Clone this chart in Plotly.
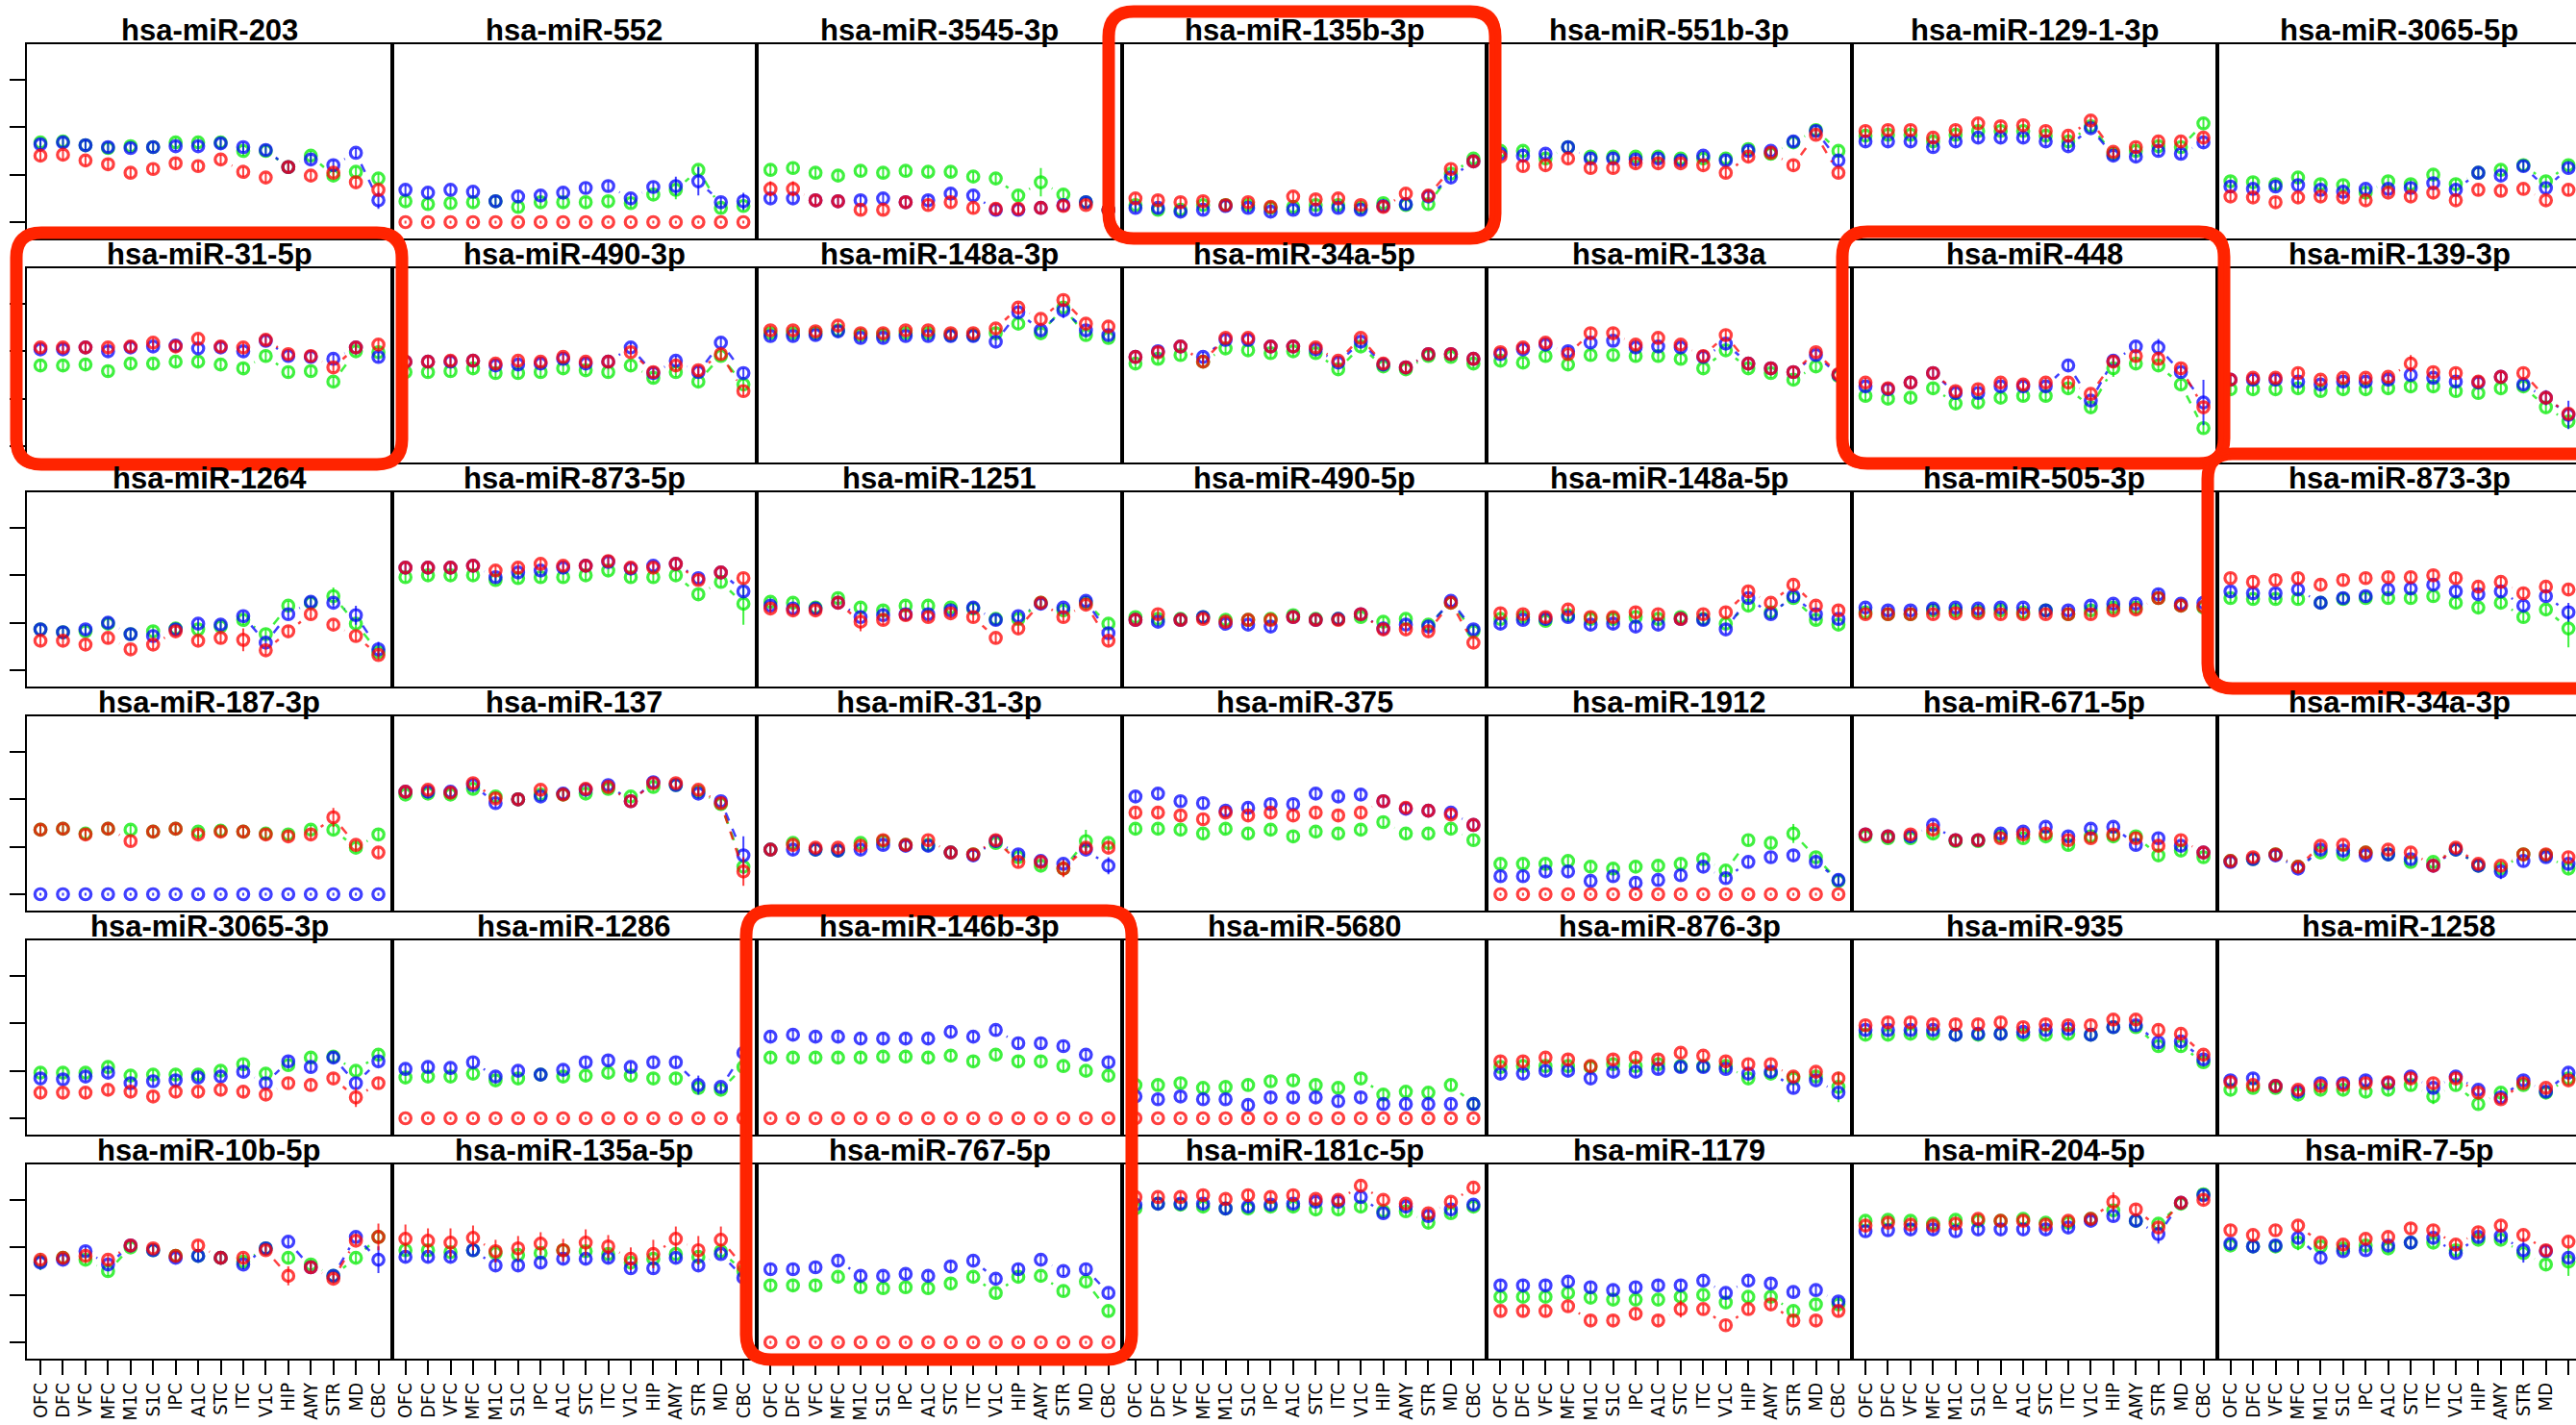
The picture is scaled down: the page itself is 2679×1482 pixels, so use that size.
import math
import plotly.graph_objects as go

# ---------------------------------------------------------------- data
regions = ["OFC", "DFC", "VFC", "MFC", "M1C", "S1C", "IPC", "A1C",
           "STC", "ITC", "V1C", "HIP", "AMY", "STR", "MD", "CBC"]

mirnas = [
    "hsa-miR-203", "hsa-miR-552", "hsa-miR-3545-3p", "hsa-miR-135b-3p", "hsa-miR-551b-3p", "hsa-miR-129-1-3p", "hsa-miR-3065-5p",
    "hsa-miR-31-5p", "hsa-miR-490-3p", "hsa-miR-148a-3p", "hsa-miR-34a-5p", "hsa-miR-133a", "hsa-miR-448", "hsa-miR-139-3p",
    "hsa-miR-1264", "hsa-miR-873-5p", "hsa-miR-1251", "hsa-miR-490-5p", "hsa-miR-148a-5p", "hsa-miR-505-3p", "hsa-miR-873-3p",
    "hsa-miR-187-3p", "hsa-miR-137", "hsa-miR-31-3p", "hsa-miR-375", "hsa-miR-1912", "hsa-miR-671-5p", "hsa-miR-34a-3p",
    "hsa-miR-3065-3p", "hsa-miR-1286", "hsa-miR-146b-3p", "hsa-miR-5680", "hsa-miR-876-3p", "hsa-miR-935", "hsa-miR-1258",
    "hsa-miR-10b-5p", "hsa-miR-135a-5p", "hsa-miR-767-5p", "hsa-miR-181c-5p", "hsa-miR-1179", "hsa-miR-204-5p", "hsa-miR-7-5p",
]

Z = [0.0] * 16

expr_red = {
    "hsa-miR-203": [7.0, 7.1, 6.5, 6.1, 5.2, 5.6, 6.2, 5.9, 6.6, 5.3, 4.7, 5.8, 4.9, 5.2, 4.2, 3.4],
    "hsa-miR-552": Z,
    "hsa-miR-3545-3p": [3.5, 3.5, 2.3, 2.2, 1.3, 1.3, 2.1, 1.8, 2.1, 1.5, 1.4, 1.4, 1.5, 1.7, 1.8, 1.3],
    "hsa-miR-135b-3p": [2.5, 2.3, 2.1, 2.2, 1.8, 2.1, 1.6, 2.7, 2.4, 2.5, 1.8, 1.6, 3.0, 2.8, 5.6, 6.4],
    "hsa-miR-551b-3p": [6.9, 5.9, 6.0, 6.7, 5.7, 5.7, 6.2, 6.2, 6.2, 6.0, 5.2, 6.9, 7.3, 6.0, 9.2, 5.2],
    "hsa-miR-129-1-3p": [9.6, 9.7, 9.7, 8.9, 9.7, 10.4, 10.1, 10.2, 9.6, 9.1, 10.7, 7.4, 7.9, 8.5, 8.5, 8.9],
    "hsa-miR-3065-5p": [2.7, 2.6, 2.1, 2.6, 2.7, 2.6, 2.3, 3.1, 2.7, 3.1, 2.3, 3.4, 3.3, 3.5, 2.3, 3.4],
    "hsa-miR-31-5p": [10.4, 10.4, 10.4, 10.4, 10.5, 10.9, 10.5, 11.3, 10.5, 10.4, 11.2, 9.7, 9.5, 8.3, 10.4, 10.7],
    "hsa-miR-490-3p": [8.9, 8.9, 9.0, 9.0, 8.7, 9.0, 8.9, 9.4, 8.9, 8.9, 9.9, 7.8, 8.5, 8.0, 9.7, 5.8],
    "hsa-miR-148a-3p": [12.2, 12.2, 12.1, 12.7, 11.9, 11.9, 12.2, 12.2, 11.9, 11.9, 12.4, 14.6, 13.4, 15.4, 12.9, 12.6],
    "hsa-miR-34a-5p": [9.4, 9.9, 10.5, 8.9, 11.4, 11.4, 10.5, 10.5, 10.4, 9.0, 11.4, 8.7, 8.3, 9.7, 9.7, 9.2],
    "hsa-miR-133a": [9.9, 10.4, 10.9, 9.7, 11.9, 11.9, 10.7, 11.4, 10.7, 9.5, 11.7, 8.7, 8.2, 7.8, 9.9, 7.6],
    "hsa-miR-448": [6.7, 6.1, 6.7, 7.7, 5.8, 6.0, 6.7, 6.5, 6.7, 6.7, 5.5, 8.9, 9.5, 9.2, 8.2, 4.1],
    "hsa-miR-139-3p": [7.0, 7.2, 7.2, 7.7, 7.0, 7.2, 7.2, 7.3, 8.7, 7.8, 7.7, 6.8, 7.3, 7.7, 5.1, 3.4],
    "hsa-miR-1264": [3.1, 3.1, 2.7, 3.4, 2.2, 2.7, 4.1, 3.1, 3.4, 3.2, 2.1, 4.1, 5.9, 4.8, 3.6, 1.6],
    "hsa-miR-873-5p": [10.8, 10.8, 10.8, 11.0, 10.5, 10.8, 11.2, 11.0, 11.0, 11.5, 10.8, 10.8, 11.2, 9.5, 10.3, 9.7],
    "hsa-miR-1251": [6.5, 6.3, 6.3, 7.1, 5.1, 5.3, 5.8, 5.6, 6.0, 5.6, 3.4, 4.4, 7.1, 5.6, 6.9, 3.1],
    "hsa-miR-490-5p": [5.3, 5.9, 5.3, 5.4, 5.1, 5.3, 5.3, 5.6, 5.3, 5.3, 5.9, 4.3, 4.3, 4.1, 7.1, 2.9],
    "hsa-miR-148a-5p": [6.0, 5.9, 5.6, 6.4, 5.6, 5.6, 6.1, 5.9, 5.4, 5.9, 6.1, 8.3, 7.1, 9.0, 6.8, 6.3],
    "hsa-miR-505-3p": [5.9, 5.9, 5.9, 5.9, 6.0, 6.0, 5.9, 5.9, 5.9, 5.9, 5.9, 6.3, 6.4, 7.6, 6.8, 6.7],
    "hsa-miR-873-3p": [9.7, 9.3, 9.5, 9.7, 9.0, 9.5, 9.7, 9.8, 9.8, 10.0, 9.7, 8.8, 9.3, 8.1, 8.8, 8.5],
    "hsa-miR-187-3p": [6.8, 6.9, 6.3, 6.9, 5.6, 6.6, 6.9, 6.3, 6.6, 6.6, 6.3, 6.1, 6.3, 8.1, 5.2, 4.4],
    "hsa-miR-137": [10.8, 11.0, 10.7, 11.7, 10.1, 10.0, 11.0, 10.5, 11.1, 11.3, 9.8, 11.7, 11.7, 11.0, 9.6, 2.4],
    "hsa-miR-31-3p": [4.7, 5.2, 4.9, 4.9, 5.1, 5.7, 5.2, 5.7, 4.4, 4.2, 5.7, 3.4, 3.4, 2.7, 4.9, 4.9],
    "hsa-miR-375": [8.6, 8.6, 8.3, 7.9, 8.6, 8.3, 8.6, 8.3, 8.6, 8.3, 8.6, 9.8, 9.1, 8.8, 8.4, 7.3],
    "hsa-miR-1912": Z,
    "hsa-miR-671-5p": [6.3, 6.1, 6.3, 6.8, 5.7, 5.7, 5.9, 6.3, 6.4, 5.7, 5.9, 6.3, 5.9, 5.1, 5.7, 4.4],
    "hsa-miR-34a-3p": [3.5, 3.9, 4.2, 2.9, 5.1, 5.2, 4.4, 4.7, 4.4, 3.0, 4.9, 3.2, 3.0, 4.2, 4.2, 3.9],
    "hsa-miR-3065-3p": [2.7, 2.7, 2.7, 3.0, 2.8, 2.3, 2.8, 2.8, 3.0, 2.8, 2.5, 3.7, 3.5, 4.2, 2.2, 3.7],
    "hsa-miR-1286": Z,
    "hsa-miR-146b-3p": Z,
    "hsa-miR-5680": Z,
    "hsa-miR-876-3p": [6.0, 6.0, 6.4, 6.2, 5.5, 6.2, 6.4, 6.2, 6.9, 6.6, 6.0, 5.7, 5.7, 4.4, 4.9, 4.2],
    "hsa-miR-935": [9.8, 10.1, 10.1, 9.9, 9.9, 9.9, 10.1, 9.6, 9.9, 9.8, 9.8, 10.4, 10.4, 9.3, 8.9, 6.7],
    "hsa-miR-1258": [3.8, 3.5, 3.4, 3.0, 3.4, 3.5, 3.7, 3.8, 4.2, 3.7, 4.2, 2.7, 2.0, 3.7, 3.2, 4.0],
    "hsa-miR-10b-5p": [8.7, 8.9, 9.1, 8.7, 10.2, 9.9, 9.1, 10.2, 8.9, 8.9, 9.7, 7.0, 7.9, 6.7, 10.7, 11.1],
    "hsa-miR-135a-5p": [10.9, 10.7, 10.5, 11.0, 9.6, 9.9, 10.4, 9.7, 10.5, 10.1, 8.8, 9.3, 10.9, 9.7, 10.8, 8.0],
    "hsa-miR-767-5p": Z,
    "hsa-miR-181c-5p": [15.3, 15.3, 15.3, 15.5, 15.1, 15.5, 15.3, 15.5, 15.1, 15.0, 16.5, 15.0, 14.6, 13.6, 14.8, 16.3],
    "hsa-miR-1179": [3.3, 3.3, 3.3, 3.8, 2.3, 2.3, 3.0, 2.3, 3.5, 3.5, 1.8, 3.5, 4.0, 2.3, 2.3, 3.3],
    "hsa-miR-204-5p": [12.3, 12.6, 12.4, 12.3, 12.5, 13.0, 12.8, 12.8, 12.4, 12.8, 13.0, 14.8, 14.0, 12.1, 14.7, 15.0],
    "hsa-miR-7-5p": [11.8, 11.3, 11.8, 12.3, 10.5, 10.3, 10.9, 11.1, 12.0, 11.8, 10.3, 11.6, 12.3, 11.3, 9.7, 10.6],
}

expr_green = {
    "hsa-miR-203": [8.4, 8.5, 8.1, 7.8, 8.0, 7.9, 8.4, 8.4, 8.4, 7.5, 7.5, 5.8, 7.0, 4.9, 5.3, 4.6],
    "hsa-miR-552": [2.2, 1.9, 2.0, 2.1, 2.2, 1.6, 2.1, 2.1, 2.1, 2.2, 2.0, 2.9, 3.4, 5.5, 1.5, 1.7],
    "hsa-miR-3545-3p": [5.5, 5.7, 5.2, 4.9, 5.4, 5.2, 5.4, 5.3, 5.3, 4.8, 4.6, 2.8, 4.2, 2.9, 2.1, 1.3],
    "hsa-miR-135b-3p": [1.8, 1.3, 1.3, 1.8, 1.8, 1.8, 1.5, 1.6, 1.8, 1.8, 1.5, 2.0, 1.8, 1.9, 5.1, 6.7],
    "hsa-miR-551b-3p": [7.5, 7.5, 6.7, 7.9, 6.9, 6.9, 6.9, 6.9, 6.7, 6.7, 6.7, 7.7, 7.2, 8.4, 9.7, 7.5],
    "hsa-miR-129-1-3p": [9.1, 9.2, 9.2, 8.5, 9.2, 9.6, 9.6, 9.6, 9.1, 8.5, 10.1, 7.2, 7.5, 8.0, 7.9, 10.4],
    "hsa-miR-3065-5p": [4.3, 4.2, 4.0, 4.7, 4.0, 3.9, 3.1, 4.3, 4.0, 5.0, 4.0, 5.2, 5.5, 6.0, 4.3, 6.0],
    "hsa-miR-31-5p": [8.5, 8.5, 8.6, 7.9, 8.7, 8.7, 8.9, 8.9, 8.6, 8.2, 9.5, 7.8, 7.9, 6.8, 10.0, 9.9],
    "hsa-miR-490-3p": [7.8, 7.8, 7.9, 8.2, 7.7, 7.7, 7.8, 8.2, 8.0, 7.8, 8.5, 7.2, 7.8, 6.8, 9.5, 6.5],
    "hsa-miR-148a-3p": [11.9, 11.9, 11.9, 12.2, 11.7, 11.7, 11.9, 11.9, 11.7, 11.7, 11.9, 12.9, 11.9, 14.6, 11.7, 11.4],
    "hsa-miR-34a-5p": [8.7, 9.2, 9.6, 8.9, 10.3, 10.1, 9.8, 10.0, 9.8, 8.1, 10.5, 8.4, 8.1, 9.5, 9.4, 8.7],
    "hsa-miR-133a": [9.0, 8.8, 9.5, 8.6, 9.6, 9.6, 9.5, 9.5, 9.2, 8.2, 10.1, 8.2, 7.7, 7.0, 8.4, 7.4],
    "hsa-miR-448": [5.3, 5.0, 5.1, 6.1, 4.5, 4.6, 5.1, 5.3, 5.3, 6.1, 4.1, 8.2, 8.7, 8.5, 6.5, 1.9],
    "hsa-miR-139-3p": [6.0, 6.0, 6.0, 6.1, 5.8, 6.0, 6.0, 6.1, 6.3, 6.3, 5.8, 5.6, 6.1, 6.3, 4.1, 2.6],
    "hsa-miR-1264": [4.3, 4.0, 4.1, 4.9, 3.8, 4.1, 4.4, 4.3, 4.6, 5.3, 3.8, 6.8, 7.1, 7.8, 4.9, 1.9],
    "hsa-miR-873-5p": [9.8, 10.0, 10.0, 10.0, 9.5, 9.7, 9.8, 9.8, 10.0, 10.5, 9.8, 9.8, 10.0, 8.0, 9.3, 7.0],
    "hsa-miR-1251": [7.2, 7.1, 6.6, 7.6, 6.6, 6.3, 6.8, 6.8, 6.6, 6.5, 5.4, 5.4, 7.1, 6.3, 7.1, 4.9],
    "hsa-miR-490-5p": [5.6, 5.4, 5.4, 5.6, 5.3, 5.3, 5.4, 5.8, 5.4, 5.4, 5.6, 5.1, 5.4, 4.8, 7.1, 4.1],
    "hsa-miR-148a-5p": [5.4, 5.6, 5.2, 5.8, 5.4, 5.4, 5.6, 5.4, 5.6, 5.4, 4.9, 6.8, 6.1, 7.6, 5.3, 4.8],
    "hsa-miR-505-3p": [6.1, 5.9, 5.9, 6.3, 6.3, 6.2, 6.3, 6.1, 6.3, 5.9, 6.3, 6.6, 6.6, 7.6, 6.8, 6.6],
    "hsa-miR-873-3p": [7.6, 7.5, 7.5, 7.5, 7.1, 7.5, 7.6, 7.6, 7.6, 7.8, 7.1, 6.6, 7.1, 5.6, 6.4, 4.4],
    "hsa-miR-187-3p": [6.8, 6.9, 6.4, 6.9, 6.8, 6.6, 6.9, 6.6, 6.7, 6.6, 6.4, 6.3, 6.8, 6.8, 4.9, 6.3],
    "hsa-miR-137": [10.5, 10.6, 10.5, 11.1, 10.3, 10.0, 10.5, 10.5, 10.6, 11.1, 10.3, 11.3, 11.5, 10.8, 9.5, 2.9],
    "hsa-miR-31-3p": [4.7, 5.4, 4.7, 4.6, 5.4, 5.6, 5.2, 5.2, 4.4, 4.2, 5.4, 3.9, 3.0, 2.7, 5.6, 5.4],
    "hsa-miR-375": [6.9, 6.9, 6.8, 6.4, 6.9, 6.4, 6.8, 6.1, 6.6, 6.4, 6.8, 7.6, 6.4, 6.4, 6.9, 5.7],
    "hsa-miR-1912": [3.2, 3.2, 3.2, 3.5, 2.9, 2.7, 2.9, 3.0, 3.2, 3.7, 2.5, 5.7, 5.4, 6.4, 3.9, 1.4],
    "hsa-miR-671-5p": [6.1, 5.9, 5.9, 6.4, 5.6, 5.6, 6.1, 5.9, 6.1, 5.2, 6.1, 6.1, 6.1, 4.1, 4.6, 3.9],
    "hsa-miR-34a-3p": [3.5, 3.7, 4.2, 2.9, 4.4, 4.2, 4.4, 4.2, 3.4, 3.4, 4.7, 3.0, 2.7, 4.2, 4.1, 2.7],
    "hsa-miR-3065-3p": [4.8, 4.8, 4.8, 5.4, 4.5, 4.6, 4.6, 4.6, 5.0, 5.7, 4.7, 5.6, 6.4, 6.5, 5.0, 6.7],
    "hsa-miR-1286": [4.3, 4.4, 4.4, 4.7, 4.0, 4.2, 4.6, 4.4, 4.5, 4.8, 4.5, 4.2, 4.2, 3.2, 3.0, 5.4],
    "hsa-miR-146b-3p": [6.4, 6.4, 6.4, 6.4, 6.4, 6.5, 6.5, 6.4, 6.6, 6.0, 6.7, 6.0, 6.0, 5.5, 5.0, 4.5],
    "hsa-miR-5680": [3.5, 3.5, 3.7, 3.2, 3.3, 3.5, 3.9, 4.0, 3.5, 3.2, 4.2, 2.5, 2.8, 2.7, 3.5, 1.5],
    "hsa-miR-876-3p": [5.4, 5.5, 5.5, 5.5, 5.4, 5.7, 5.5, 5.7, 5.5, 5.5, 5.5, 4.2, 4.7, 4.2, 4.4, 3.3],
    "hsa-miR-935": [8.8, 8.8, 8.9, 8.9, 8.8, 8.8, 8.9, 8.8, 8.8, 8.9, 8.8, 9.6, 9.6, 7.6, 7.6, 5.9],
    "hsa-miR-1258": [3.0, 3.2, 3.2, 2.5, 3.0, 3.0, 2.8, 3.0, 3.5, 2.3, 3.5, 1.5, 2.7, 3.5, 2.7, 4.2],
    "hsa-miR-10b-5p": [8.5, 8.9, 8.7, 7.5, 10.0, 9.7, 9.1, 9.1, 8.9, 8.5, 9.9, 8.9, 8.2, 7.0, 8.9, 11.1],
    "hsa-miR-135a-5p": [9.7, 9.7, 9.5, 9.7, 9.4, 9.2, 9.4, 9.7, 9.6, 9.3, 8.4, 8.8, 9.3, 9.0, 9.6, 7.5],
    "hsa-miR-767-5p": [6.0, 6.0, 6.0, 6.9, 5.8, 5.7, 5.8, 5.7, 6.2, 6.9, 5.2, 6.9, 7.0, 5.4, 6.4, 3.3],
    "hsa-miR-181c-5p": [14.1, 14.6, 14.5, 14.3, 14.1, 14.1, 14.3, 14.3, 14.0, 14.0, 14.3, 13.8, 13.8, 12.6, 13.6, 14.3],
    "hsa-miR-1179": [4.8, 4.8, 4.8, 5.2, 4.7, 4.5, 4.5, 4.5, 4.8, 5.0, 4.2, 4.8, 4.8, 3.3, 4.0, 4.0],
    "hsa-miR-204-5p": [12.8, 12.9, 12.8, 12.5, 12.9, 12.8, 12.8, 13.0, 12.6, 12.6, 13.0, 13.9, 12.8, 12.5, 14.6, 15.6],
    "hsa-miR-7-5p": [10.2, 10.1, 10.1, 10.5, 10.1, 9.9, 10.2, 9.9, 10.5, 10.5, 9.7, 10.8, 10.8, 9.4, 8.2, 8.5],
}

expr_blue = {
    "hsa-miR-203": [8.2, 8.4, 8.1, 7.9, 7.8, 7.9, 8.0, 8.0, 8.3, 7.9, 7.6, 5.8, 6.6, 6.0, 7.3, 2.3],
    "hsa-miR-552": [3.4, 3.1, 3.4, 3.2, 2.2, 2.7, 2.8, 3.1, 3.6, 3.8, 2.5, 3.7, 3.8, 4.3, 2.1, 2.2],
    "hsa-miR-3545-3p": [2.5, 2.5, 2.3, 2.2, 2.3, 2.5, 2.1, 2.3, 3.0, 2.8, 1.3, 1.3, 1.5, 1.8, 2.1, 1.3],
    "hsa-miR-135b-3p": [1.5, 1.5, 1.1, 1.3, 1.7, 1.5, 1.1, 1.3, 1.3, 1.5, 1.3, 1.7, 1.9, 2.7, 4.7, 6.4],
    "hsa-miR-551b-3p": [7.2, 7.0, 7.2, 7.9, 6.7, 6.7, 6.6, 6.7, 6.5, 7.0, 6.5, 7.5, 7.5, 8.5, 9.6, 6.5],
    "hsa-miR-129-1-3p": [8.5, 8.5, 8.5, 7.9, 8.5, 8.9, 8.9, 8.9, 8.5, 8.0, 9.9, 7.0, 6.9, 7.5, 7.2, 8.4],
    "hsa-miR-3065-5p": [3.75, 3.5, 3.75, 3.9, 3.4, 3.2, 3.5, 3.5, 3.6, 4.1, 3.4, 5.2, 4.9, 5.9, 3.6, 5.7],
    "hsa-miR-31-5p": [10.2, 10.2, 10.4, 10.0, 10.4, 10.5, 10.6, 10.3, 10.4, 10.0, 11.1, 9.5, 9.4, 9.2, 10.4, 9.4],
    "hsa-miR-490-3p": [8.9, 8.9, 8.9, 9.0, 8.5, 8.6, 8.7, 9.2, 8.7, 8.9, 10.4, 7.7, 9.0, 7.8, 10.9, 7.7],
    "hsa-miR-148a-3p": [11.6, 11.6, 11.7, 12.1, 11.4, 11.4, 11.6, 11.6, 11.6, 11.6, 11.0, 14.1, 12.2, 14.3, 12.2, 11.7],
    "hsa-miR-34a-5p": [9.4, 10.0, 10.5, 9.4, 11.2, 11.2, 10.5, 10.5, 10.2, 8.8, 11.0, 8.6, 8.3, 9.7, 9.7, 9.2],
    "hsa-miR-133a": [9.7, 10.2, 10.7, 10.0, 10.9, 11.1, 10.4, 10.5, 10.4, 9.4, 10.8, 8.7, 8.2, 7.8, 9.6, 7.5],
    "hsa-miR-448": [6.3, 6.0, 6.7, 7.7, 5.6, 5.6, 6.3, 6.3, 6.3, 8.5, 4.8, 9.0, 10.5, 10.4, 7.8, 4.6],
    "hsa-miR-139-3p": [7.0, 7.0, 7.0, 6.8, 6.5, 6.8, 6.8, 7.0, 7.5, 7.2, 6.8, 6.7, 7.3, 6.5, 5.1, 3.3],
    "hsa-miR-1264": [4.3, 4.0, 4.3, 5.0, 3.8, 3.6, 4.3, 4.9, 4.8, 5.7, 2.9, 5.9, 7.2, 7.1, 5.8, 2.2],
    "hsa-miR-873-5p": [10.8, 10.8, 10.8, 11.0, 9.8, 10.3, 10.5, 10.8, 11.0, 11.4, 10.7, 11.0, 11.2, 9.7, 10.3, 8.3],
    "hsa-miR-1251": [6.8, 6.5, 6.5, 7.1, 5.6, 5.8, 5.9, 5.9, 6.3, 6.6, 5.3, 5.7, 7.0, 6.6, 7.3, 3.9],
    "hsa-miR-490-5p": [5.3, 5.1, 5.3, 5.6, 4.9, 4.8, 4.6, 5.6, 5.3, 5.4, 5.9, 4.4, 4.8, 4.6, 7.3, 4.3],
    "hsa-miR-148a-5p": [4.9, 5.3, 5.4, 5.6, 4.8, 4.9, 4.6, 4.8, 5.4, 5.3, 4.3, 7.6, 5.9, 7.8, 5.9, 5.4],
    "hsa-miR-505-3p": [6.6, 6.3, 6.3, 6.5, 6.6, 6.5, 6.6, 6.6, 6.3, 6.3, 6.8, 7.0, 7.0, 8.0, 7.0, 7.1],
    "hsa-miR-873-3p": [8.3, 8.1, 8.1, 8.5, 7.1, 7.6, 7.8, 8.5, 8.6, 9.0, 8.3, 8.0, 8.3, 6.8, 7.8, 6.1],
    "hsa-miR-187-3p": Z,
    "hsa-miR-137": [10.8, 10.8, 10.8, 11.5, 9.6, 10.0, 10.3, 10.6, 11.0, 11.5, 9.8, 11.8, 11.5, 10.6, 9.8, 4.1],
    "hsa-miR-31-3p": [4.7, 4.7, 4.7, 4.6, 4.7, 5.2, 5.1, 5.1, 4.4, 4.1, 5.6, 4.2, 3.5, 3.2, 4.7, 3.0],
    "hsa-miR-375": [10.3, 10.6, 9.8, 9.6, 8.8, 9.1, 9.5, 9.5, 10.6, 10.3, 10.5, 9.8, 9.0, 8.8, 8.6, 7.3],
    "hsa-miR-1912": [1.9, 1.9, 2.4, 2.4, 1.4, 1.9, 1.2, 1.5, 2.0, 2.9, 1.7, 3.4, 3.9, 4.1, 3.4, 1.5],
    "hsa-miR-671-5p": [6.3, 6.1, 6.1, 7.3, 5.7, 5.7, 6.4, 6.6, 7.1, 6.1, 6.9, 7.1, 5.2, 5.9, 5.1, 4.4],
    "hsa-miR-34a-3p": [3.4, 3.7, 4.1, 2.7, 4.7, 4.6, 4.1, 4.2, 3.7, 3.0, 4.7, 3.0, 2.4, 3.5, 3.9, 3.2],
    "hsa-miR-3065-3p": [4.2, 4.1, 4.4, 4.8, 3.7, 3.9, 4.0, 4.3, 4.4, 4.9, 3.7, 6.0, 5.4, 6.4, 3.7, 6.0],
    "hsa-miR-1286": [5.2, 5.4, 5.3, 5.9, 4.4, 5.0, 4.6, 5.1, 5.9, 6.1, 5.4, 5.9, 5.9, 3.5, 3.3, 6.9],
    "hsa-miR-146b-3p": [8.6, 8.8, 8.6, 8.6, 8.4, 8.4, 8.4, 8.4, 9.1, 8.6, 9.3, 7.9, 7.9, 7.6, 6.7, 5.9],
    "hsa-miR-5680": [2.3, 2.0, 2.3, 2.0, 2.0, 1.4, 2.2, 2.2, 2.2, 1.8, 2.2, 1.5, 1.5, 1.5, 1.5, 1.5],
    "hsa-miR-876-3p": [4.7, 4.7, 5.0, 5.0, 4.2, 4.9, 4.9, 5.2, 5.4, 5.4, 5.2, 4.7, 4.9, 3.2, 4.0, 2.7],
    "hsa-miR-935": [9.3, 9.3, 9.3, 9.3, 8.8, 8.9, 8.9, 9.1, 9.3, 9.4, 8.8, 9.6, 9.8, 8.0, 8.1, 6.2],
    "hsa-miR-1258": [4.0, 4.2, 3.4, 2.8, 3.7, 3.7, 4.0, 3.7, 4.4, 3.2, 4.4, 3.0, 2.2, 4.0, 2.8, 4.8],
    "hsa-miR-10b-5p": [8.4, 8.7, 9.6, 8.2, 10.2, 9.7, 8.9, 9.1, 8.9, 8.2, 9.9, 10.6, 7.9, 7.0, 11.1, 8.7],
    "hsa-miR-135a-5p": [9.0, 9.0, 9.0, 9.7, 8.1, 8.1, 8.4, 8.8, 8.8, 8.9, 7.8, 7.8, 8.9, 8.1, 9.3, 6.8],
    "hsa-miR-767-5p": [7.7, 7.7, 7.9, 8.6, 7.0, 7.0, 7.2, 7.0, 8.0, 8.6, 6.7, 7.7, 8.7, 7.5, 7.7, 5.2],
    "hsa-miR-181c-5p": [14.5, 14.6, 14.6, 14.6, 14.1, 14.3, 14.5, 14.6, 14.8, 14.8, 15.3, 13.6, 14.3, 13.3, 14.0, 14.5],
    "hsa-miR-1179": [6.0, 6.0, 6.0, 6.4, 5.8, 5.5, 5.8, 6.0, 6.0, 6.5, 5.2, 6.5, 6.2, 5.3, 5.5, 4.3],
    "hsa-miR-204-5p": [11.7, 11.8, 11.9, 11.9, 11.7, 11.9, 11.9, 11.9, 11.9, 12.1, 12.8, 13.3, 12.8, 11.4, 14.7, 15.5],
    "hsa-miR-7-5p": [10.4, 10.1, 10.2, 11.0, 8.9, 9.6, 9.7, 10.2, 10.5, 11.0, 9.4, 11.1, 11.2, 9.7, 9.6, 8.9],
}

# standard errors: typical value, value for undetected (zero) points,
# and the wider bars that stand out
se_typical = 0.5
se_undetected = 0.15
se_wide = {
    ("hsa-miR-203", "blue"): {15: 0.9},
    ("hsa-miR-552", "blue"): {12: 1.0, 13: 1.5, 15: 0.9},
    ("hsa-miR-552", "green"): {12: 1.0},
    ("hsa-miR-3545-3p", "green"): {12: 1.5},
    ("hsa-miR-3545-3p", "red"): {0: 0.8, 1: 0.8},
    ("hsa-miR-148a-3p", "blue"): {13: 0.8},
    ("hsa-miR-448", "blue"): {13: 0.9, 15: 2.4},
    ("hsa-miR-448", "green"): {11: 0.9},
    ("hsa-miR-139-3p", "blue"): {14: 0.8, 15: 1.5},
    ("hsa-miR-139-3p", "red"): {8: 0.9},
    ("hsa-miR-1264", "red"): {9: 1.2},
    ("hsa-miR-1264", "green"): {13: 0.9},
    ("hsa-miR-1264", "blue"): {14: 1.0, 15: 0.8},
    ("hsa-miR-873-5p", "green"): {15: 2.2},
    ("hsa-miR-1251", "red"): {4: 1.0},
    ("hsa-miR-873-3p", "green"): {15: 2.0},
    ("hsa-miR-873-3p", "blue"): {15: 1.0},
    ("hsa-miR-187-3p", "red"): {13: 1.0},
    ("hsa-miR-137", "red"): {15: 1.5},
    ("hsa-miR-137", "blue"): {15: 2.0},
    ("hsa-miR-31-3p", "green"): {14: 1.2},
    ("hsa-miR-31-3p", "red"): {13: 0.9},
    ("hsa-miR-31-3p", "blue"): {15: 0.9},
    ("hsa-miR-1912", "green"): {13: 1.0},
    ("hsa-miR-34a-3p", "blue"): {12: 0.8},
    ("hsa-miR-3065-3p", "red"): {14: 1.0},
    ("hsa-miR-1286", "blue"): {13: 1.0},
    ("hsa-miR-876-3p", "green"): {15: 1.6},
    ("hsa-miR-1258", "green"): {9: 0.8},
    ("hsa-miR-10b-5p", "red"): {11: 1.0, 15: 1.4},
    ("hsa-miR-10b-5p", "blue"): {15: 1.4},
    ("hsa-miR-10b-5p", "green"): {0: 0.9},
    ("hsa-miR-135a-5p", "red"): {0: 1.5, 1: 1.3, 2: 1.5, 3: 1.3, 4: 1.2, 5: 1.3, 6: 1.2, 7: 1.2,
                                 8: 1.4, 9: 1.2, 10: 1.2, 11: 1.5, 12: 1.3, 13: 1.5, 14: 1.4, 15: 1.3},
    ("hsa-miR-1179", "red"): {8: 0.9},
    ("hsa-miR-204-5p", "red"): {11: 1.0},
    ("hsa-miR-204-5p", "blue"): {13: 1.0},
    ("hsa-miR-7-5p", "green"): {3: 0.8, 15: 1.5},
    ("hsa-miR-7-5p", "blue"): {12: 0.8, 13: 1.3},
}

ytick_vals = [0, 5, 10, 15]

# ---------------------------------------------------------------- layout
W, H = 2679, 1482
LEFT, COLW = 28.0, 379.6          # panel left edge / width (px)
TOP0, ROWSTEP, PLOTH = 46.0, 233.0, 202.0
NCOL, NROW = 7, 6
X_LO, X_SPAN = 0.4, 16.2          # category axis: 1..16 with 0.6 padding
Y_LO, Y_HI = -1.72, 18.74
PX_X = COLW / X_SPAN
PX_Y = PLOTH / (Y_HI - Y_LO)
GAP = 13.0                        # blank space left around each point on the joining lines

TITLE_FONT = "Liberation Sans, Arial, sans-serif"
TICK_FONT = "Liberation Sans Narrow, Arial Narrow, DejaVu Sans Condensed, Liberation Sans, sans-serif"

series = [
    ("green", expr_green, "rgba(0,235,0,0.75)"),
    ("blue", expr_blue, "rgba(0,0,255,0.75)"),
    ("red", expr_red, "rgba(255,0,0,0.75)"),
]

xs = list(range(1, len(regions) + 1))

fig = go.Figure()
layout = dict(
    width=W, height=H,
    margin=dict(l=0, r=0, t=0, b=0),
    paper_bgcolor="white", plot_bgcolor="white",
    showlegend=False,
    annotations=[], shapes=[],
)


def gapped_segments(vals):
    """Joining line between neighbouring points, broken around each symbol."""
    sx, sy = [], []
    for i in range(len(vals) - 1):
        x1, x2 = xs[i], xs[i + 1]
        y1, y2 = vals[i], vals[i + 1]
        dxp = (x2 - x1) * PX_X
        dyp = (y2 - y1) * PX_Y
        L = math.hypot(dxp, dyp)
        if L <= 2 * GAP:
            continue
        f = GAP / L
        sx += [x1 + f * (x2 - x1), x2 - f * (x2 - x1), None]
        sy += [y1 + f * (y2 - y1), y2 - f * (y2 - y1), None]
    return sx, sy


for idx, name in enumerate(mirnas):
    r, c = divmod(idx, NCOL)
    ax = idx + 1
    xa = "x" if ax == 1 else f"x{ax}"
    ya = "y" if ax == 1 else f"y{ax}"

    x0 = LEFT + c * COLW
    x1 = min(x0 + COLW, W)
    top = TOP0 + r * ROWSTEP
    bot = top + PLOTH

    for key, data, col in series:
        vals = data[name]
        errs = [se_undetected if v == 0 else se_typical for v in vals]
        for i, e in se_wide.get((name, key), {}).items():
            errs[i] = e
        lx, ly = gapped_segments(vals)
        fig.add_trace(go.Scatter(
            x=lx, y=ly, xaxis=xa, yaxis=ya, mode="lines",
            line=dict(color=col, width=2.5, dash="dash"),
            hoverinfo="skip", cliponaxis=True,
        ))
        fig.add_trace(go.Scatter(
            x=xs, y=vals, xaxis=xa, yaxis=ya, mode="markers",
            marker=dict(symbol="circle-open", size=11.5, color=col,
                        line=dict(width=3.2, color=col)),
            error_y=dict(type="data", array=errs, visible=True,
                         width=0, thickness=2, color=col),
            cliponaxis=True, name=f"{name} {key}",
        ))

    last_row = r == NROW - 1
    layout["xaxis" if ax == 1 else f"xaxis{ax}"] = dict(
        domain=[x0 / W, x1 / W],
        range=[X_LO, X_LO + (x1 - x0) / PX_X],
        anchor=ya, showgrid=False, zeroline=False,
        showline=True, linecolor="black", linewidth=2, mirror=True,
        tickmode="array", tickvals=xs, ticktext=regions,
        ticks="outside" if last_row else "", ticklen=15, tickwidth=2, tickcolor="black",
        showticklabels=last_row, tickangle=-90,
        tickfont=dict(family=TICK_FONT, size=20, color="black"),
    )
    layout["yaxis" if ax == 1 else f"yaxis{ax}"] = dict(
        domain=[1 - bot / H, 1 - top / H],
        range=[Y_LO, Y_HI],
        anchor=xa, showgrid=False, zeroline=False,
        showline=True, linecolor="black", linewidth=2, mirror=(c < NCOL - 1),
        tickmode="array", tickvals=ytick_vals,
        ticks="outside" if c == 0 else "", ticklen=16, tickwidth=2, tickcolor="black",
        showticklabels=False,
    )

    layout["annotations"].append(dict(
        text=f"<b>{name}</b>", xref="paper", yref="paper",
        x=(x0 + COLW / 2) / W, y=1 - (top - 15) / H,
        xanchor="center", yanchor="middle", showarrow=False,
        font=dict(family=TITLE_FONT, size=31, color="black"),
    ))


# ---------------------------------------------------------------- marker-pen highlight boxes
def pen_box(x0, y0, x1, y1, rad=26):
    def P(x, y):
        return f"{x / W:.5f},{1 - y / H:.5f}"
    return (f"M {P(x0 + rad, y0)} L {P(x1 - rad, y0)} Q {P(x1, y0)} {P(x1, y0 + rad)} "
            f"L {P(x1, y1 - rad)} Q {P(x1, y1)} {P(x1 - rad, y1)} "
            f"L {P(x0 + rad, y1)} Q {P(x0, y1)} {P(x0, y1 - rad)} "
            f"L {P(x0, y0 + rad)} Q {P(x0, y0)} {P(x0 + rad, y0)} Z")


highlight_boxes = [
    (1153, 12, 1555, 248),
    (17, 242, 418, 483),
    (1916, 241, 2313, 482),
    (2296, 472, 2740, 716),
    (776, 947, 1177, 1414),
]
PEN = "rgb(255,36,0)"
pen_strokes = [(0, 0, 13, 1.0), (3, -3, 5, 0.85), (-3, 3, 5, 0.85), (1, 4, 3, 0.6), (-2, -4, 3, 0.6)]
for bx0, by0, bx1, by1 in highlight_boxes:
    for (ox, oy, w, op) in pen_strokes:
        layout["shapes"].append(dict(
            type="path", xref="paper", yref="paper", layer="above",
            path=pen_box(bx0 + ox, by0 + oy, bx1 + ox, by1 + oy),
            line=dict(color=PEN, width=w), opacity=op,
        ))

fig.update_layout(**layout)
fig.write_html("out.html")
